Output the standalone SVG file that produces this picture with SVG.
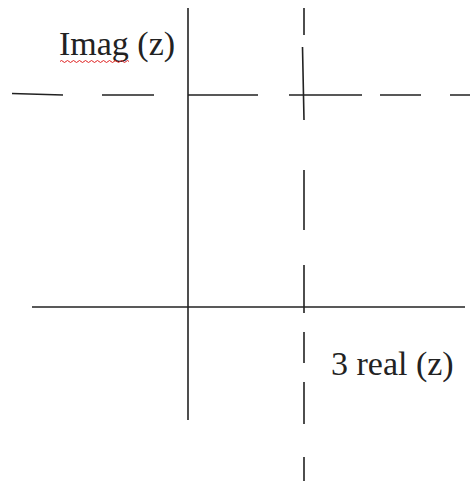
<svg xmlns="http://www.w3.org/2000/svg" width="470" height="481" viewBox="0 0 470 481">
<style>
.ln{stroke:#222;stroke-width:1.6;fill:none;stroke-linecap:butt}
.t{font-family:"Liberation Serif","Times New Roman",serif;font-size:34px;fill:#222}
</style>
<rect width="470" height="481" fill="#fff"/>
<g id="connectors">
<line class="ln" x1="188" y1="8" x2="188" y2="420"/>
<line class="ln" x1="32" y1="307" x2="465" y2="307"/>
<path class="ln" d="M12 93.5L63 95M102 95H154M188 95H258M289 95H362M380 95H421M450 95H470"/>
<path class="ln" d="M304 8V35M302.5 47L304 120M304 170V230M304 265V313M304 332V363M304 382V424M304 457V481"/>
</g>
<g id="imag-label">
<text class="t" x="59" y="55">Imag (z)</text>
<path d="M60 61.5q1.5-2 3 0t3 0t3 0t3 0t3 0t3 0t3 0t3 0t3 0t3 0t3 0t3 0t3 0t3 0t3 0t3 0t3 0t3 0t3 0t3 0t3 0t3 0t3 0" fill="none" stroke="#e02020" stroke-width="1"/>
</g>
<g id="real-label">
<text class="t" x="331" y="375">3 real (z)</text>
</g>
</svg>
